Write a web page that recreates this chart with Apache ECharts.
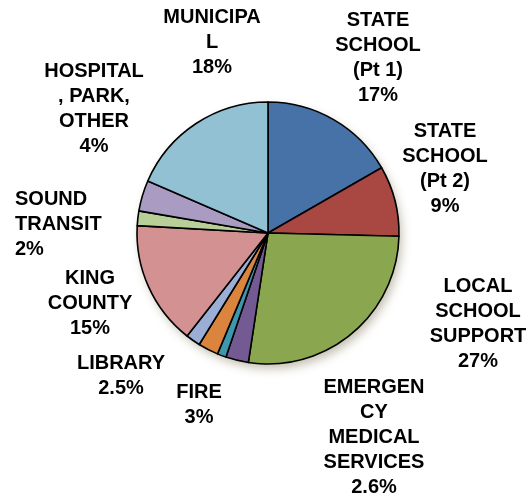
<!DOCTYPE html>
<html>
<head>
<meta charset="utf-8">
<script src="https://cdn.jsdelivr.net/npm/echarts@6/dist/echarts.min.js"></script>
<style>
html,body{margin:0;padding:0;background:#fff;}
#chart{width:531px;height:497px;}
</style>
</head>
<body>
<div id="chart"></div>
<script>
// Slice names (as wrapped in the chart), clockwise from 12 o'clock
var categories = [
  "STATE\nSCHOOL\n(Pt 1)",
  "STATE\nSCHOOL\n(Pt 2)",
  "LOCAL\nSCHOOL\nSUPPORT",
  "EMERGEN\nCY\nMEDICAL\nSERVICES",
  "",
  "FIRE",
  "LIBRARY",
  "KING\nCOUNTY",
  "SOUND\nTRANSIT",
  "HOSPITAL\n, PARK,\nOTHER",
  "MUNICIPA\nL"
];
// Slice sizes (percent)
var values = [16.7, 8.7, 27.0, 2.8, 1.1, 2.5, 1.8, 15.3, 1.8, 3.8, 18.5];
// Percent text printed in each label
var pctLabels = ["17%", "9%", "27%", "2.6%", "", "3%", "2.5%", "15%", "2%", "4%", "18%"];

var colors = ["#4672A8", "#A94843", "#8AA64F", "#745A93", "#3D98AD", "#DA843E",
              "#9AAED6", "#D39291", "#B8CF97", "#A99BC2", "#93C1D4"];
// label anchor positions (pixel) and alignment
var labelPos = [
  [378, 58, "center"], [445, 169, "center"], [478, 324, "center"], [374, 437, "center"],
  [0, 0, "center"], [199, 405, "center"], [121, 376, "center"], [90, 303, "center"],
  [15, 224, "left"], [94, 109, "center"], [212, 42, "center"]
];

var data = categories.map(function (c, i) {
  return {
    name: c,
    value: values[i],
    itemStyle: { color: colors[i] },
    label: { show: pctLabels[i] !== "", align: labelPos[i][2] }
  };
});

var chart = echarts.init(document.getElementById('chart'), null, { renderer: 'canvas' });
chart.setOption({
  backgroundColor: '#ffffff',
  animation: false,
  series: [
    {
      type: 'pie',
      silent: true,
      z: 1,
      center: [268, 233],
      radius: [0, 131],
      label: { show: false },
      labelLine: { show: false },
      data: [{ value: 1, itemStyle: { color: '#ffffff', shadowBlur: 10, shadowOffsetX: 3, shadowOffsetY: 5, shadowColor: 'rgba(90,80,40,0.35)' } }]
    },
    {
      type: 'pie',
      z: 2,
      center: [268, 233],
      radius: [0, 131],
      startAngle: 90,
      clockwise: true,
      avoidLabelOverlap: false,
      itemStyle: { borderColor: '#000000', borderWidth: 1.6 },
      label: {
        position: 'outside',
        fontFamily: '"Liberation Sans", Arial, sans-serif',
        fontWeight: 'bold',
        fontSize: 20,
        lineHeight: 25,
        color: '#000000',
        formatter: function (p) { return p.name + '\n' + pctLabels[p.dataIndex]; }
      },
      labelLine: { show: false },
      labelLayout: function (params) {
        var lp = labelPos[params.dataIndex];
        return { x: lp[0], y: lp[1], align: lp[2], verticalAlign: 'middle' };
      },
      data: data
    }
  ]
});
</script>
</body>
</html>
